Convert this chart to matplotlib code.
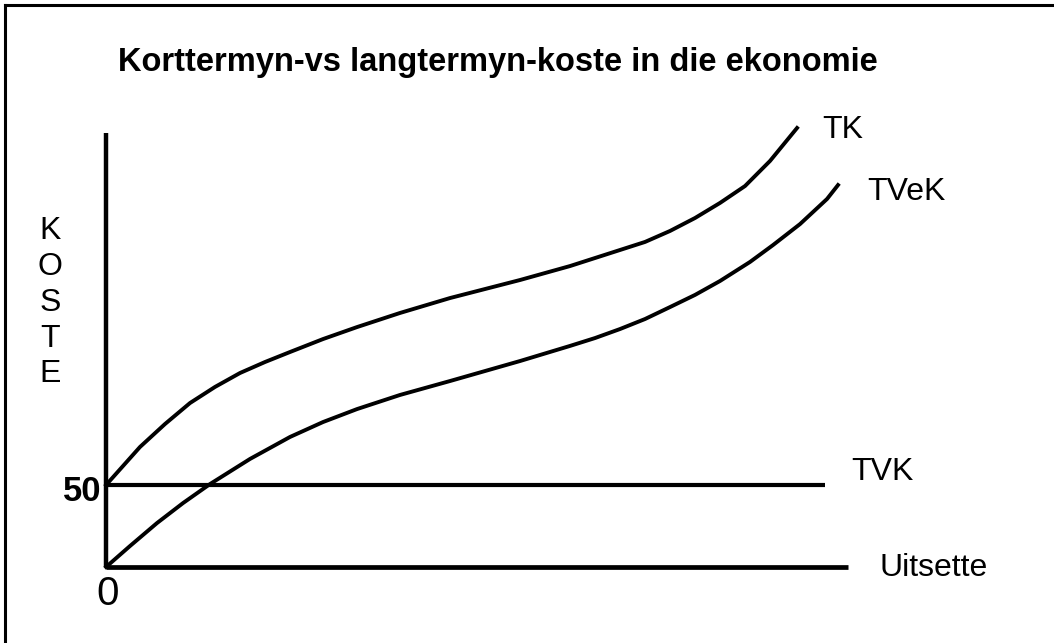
import matplotlib.pyplot as plt
from matplotlib.lines import Line2D

plt.rcParams['font.family'] = ['Liberation Sans', 'DejaVu Sans']

# quantity (uitsette) on x, cost (koste) on y
tk_q = [0, 2.29, 4.58, 7.95, 11.32, 14.69, 18.06, 21.43, 24.80, 29.25, 33.83,
        39.62, 46.36, 51.08, 55.80, 62.53, 69.27, 72.64, 76.01, 79.38, 82.75,
        86.12, 89.49, 93.13]
tk_c = [50.0, 61.6, 73.2, 87.2, 100.0, 109.8, 118.3, 125.0, 131.1, 139.0, 146.3,
        154.9, 164.0, 169.5, 175.0, 183.5, 193.3, 198.2, 204.9, 212.8, 222.0,
        232.3, 247.6, 267.7]

tvek_q = [0, 3.23, 6.87, 10.38, 14.02, 19.41, 24.80, 29.25, 33.83, 39.62, 46.36,
          51.08, 55.80, 62.53, 65.90, 69.27, 72.64, 76.01, 79.38, 82.75, 86.79,
          89.89, 93.53, 97.17, 98.65]
tvek_c = [0, 12.8, 26.8, 39.0, 50.6, 65.9, 79.3, 88.4, 96.3, 104.9, 113.4,
          119.5, 125.6, 134.8, 139.6, 145.1, 151.2, 158.5, 165.9, 174.4, 186.0,
          196.3, 209.1, 224.4, 232.9]

tvk_q = [0, 96.9]
tvk_c = [50, 50]

x_axis_q = [0, 100]
y_axis_c = [0, 264.6]

title = 'Korttermyn-vs langtermyn-koste in die ekonomie'
curve_labels = ['TK', 'TVeK', 'TVK', 'Uitsette']
y_label = 'KOSTE'
tick_values = [50, 0]

fig = plt.figure(figsize=(10.54, 6.43), dpi=100)
ax = fig.add_axes([0, 0, 1, 1])
ax.set_xlim(-14.29, 127.76)
ax.set_ylim(-46.34, 345.73)
ax.axis('off')

# frame (only top and left edge show in the picture)
fig.add_artist(Line2D([0.005, 1.0], [0.992, 0.992], color='black', lw=2.2))
fig.add_artist(Line2D([0.005, 0.005], [0.0, 0.992], color='black', lw=2.2))

# axes of the diagram
ax.plot([0, 0], y_axis_c, color='black', lw=3.2, solid_capstyle='butt')
ax.plot(x_axis_q, [0, 0], color='black', lw=3.4, solid_capstyle='butt')

ax.plot(tvk_q, tvk_c, color='black', lw=3.0, solid_capstyle='butt')
ax.plot(tk_q, tk_c, color='black', lw=2.8, solid_joinstyle='round')
ax.plot(tvek_q, tvek_c, color='black', lw=2.8, solid_joinstyle='round')

lab_kw = dict(fontsize=23, color='black', va='center', ha='left')
ax.text(96.5, 266.5, curve_labels[0], **lab_kw)
ax.text(102.6, 228.5, curve_labels[1], **lab_kw)
ax.text(100.5, 58.0, curve_labels[2], **lab_kw)
ax.text(104.2, -0.5, curve_labels[3], **lab_kw)

ax.text(-7.55, 161.0, '\n'.join(y_label), fontsize=23, ha='center', va='center',
        linespacing=1.25)

ax.text(-0.6, tick_values[0] - 4, str(tick_values[0]), fontsize=25, fontweight='bold',
        ha='right', va='center')
ax.text(0.27, tick_values[1] - 16.5, str(tick_values[1]), fontsize=29,
        ha='center', va='center')

fig.text(118 / 1054, 1 - 62 / 643, title, fontsize=23.5, fontweight='bold',
         ha='left', va='center')

fig.savefig('out.png', dpi=100, facecolor='white')
